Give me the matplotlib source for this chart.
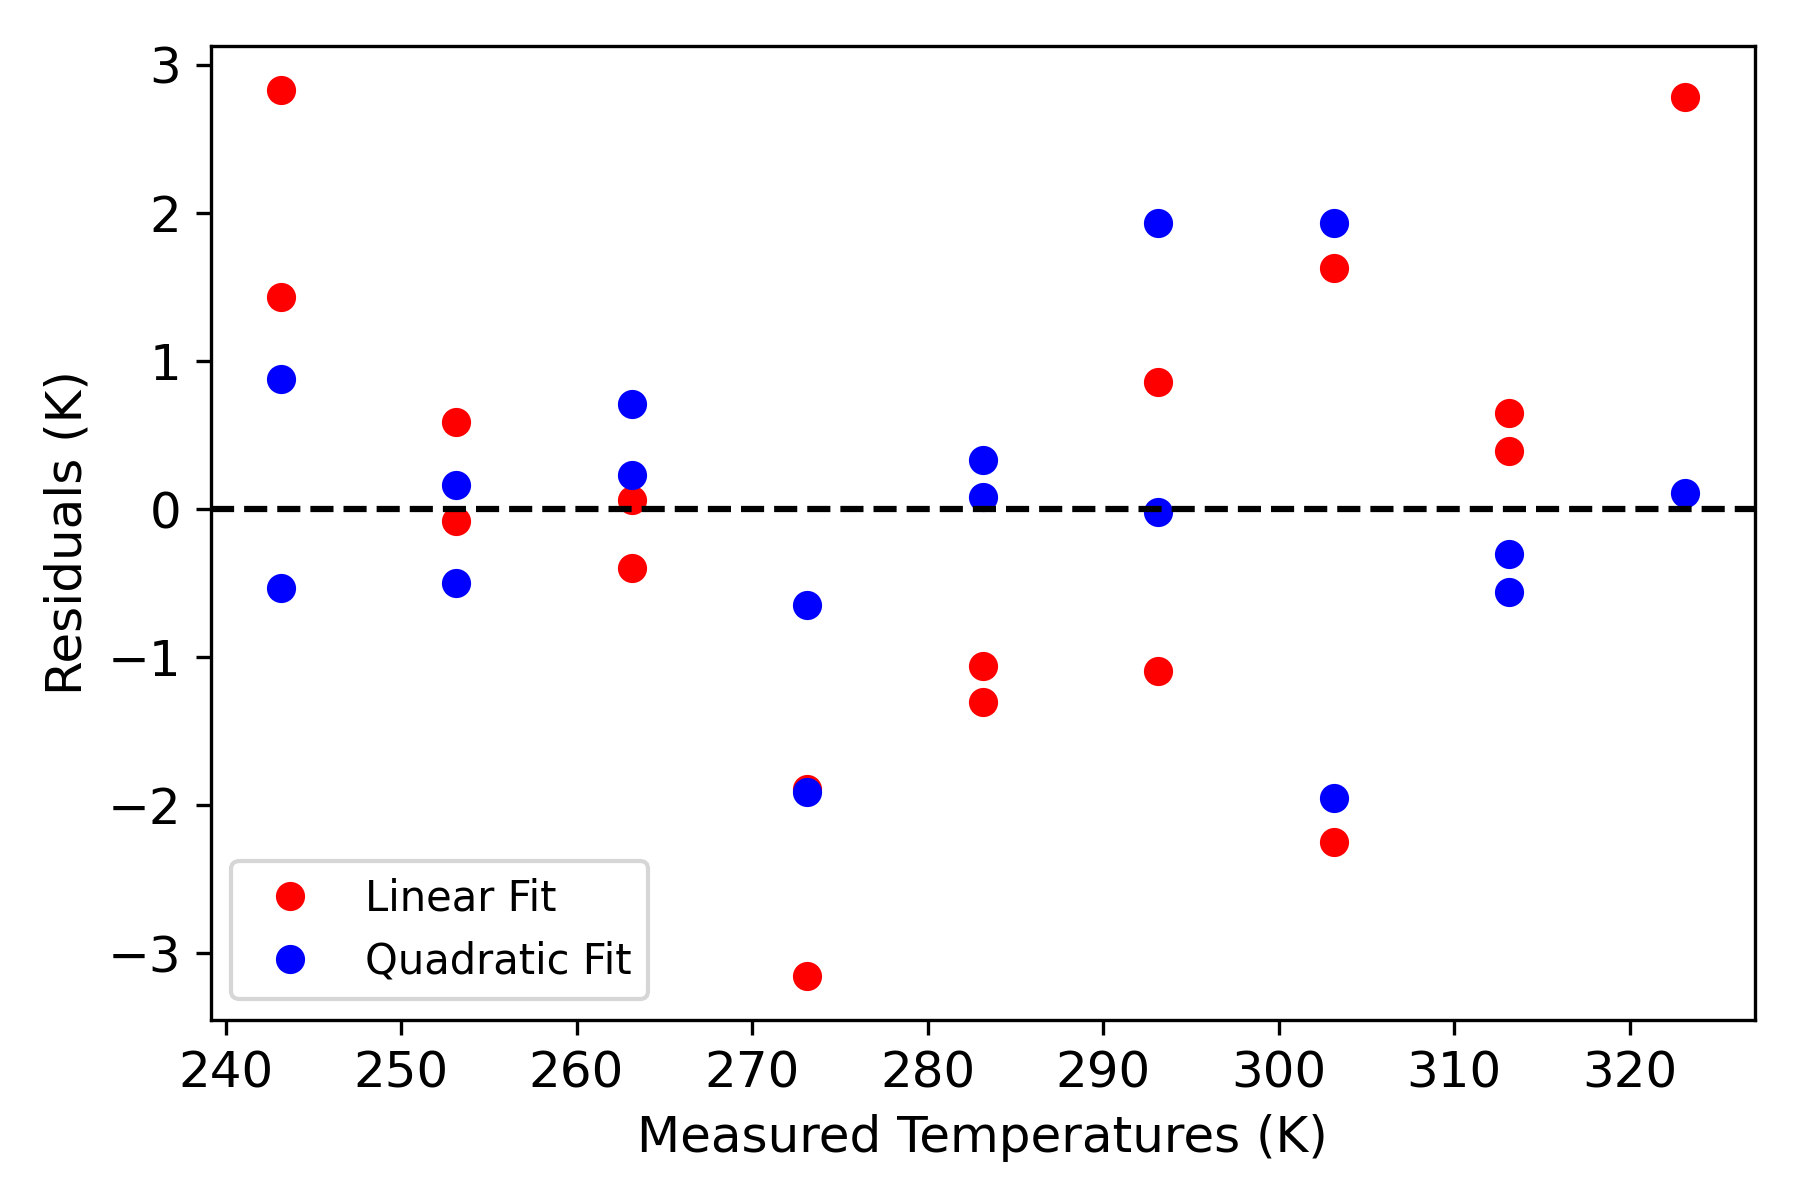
import numpy as np
import matplotlib
matplotlib.use('Agg')
import matplotlib.pyplot as plt

# measured temperatures (K), two readings per setpoint
temps = [243.15, 243.15, 253.15, 253.15, 263.15, 263.15, 273.15, 273.15,
         283.15, 283.15, 293.15, 293.15, 303.15, 303.15, 313.15, 313.15, 323.15]

res_linear = [2.83, 1.43, 0.59, -0.08, 0.06, -0.40, -1.89, -3.15,
              -1.06, -1.30, 0.86, -1.09, 1.63, -2.25, 0.65, 0.39, 2.78]

res_quad = [0.88, -0.53, 0.16, -0.50, 0.71, 0.23, -0.65, -1.91,
            0.33, 0.08, 1.93, -0.02, 1.93, -1.95, -0.30, -0.56, 0.11]

fig, ax = plt.subplots(figsize=(6, 4), dpi=300)
ax.plot(temps, res_linear, 'ro', label='Linear Fit')
ax.plot(temps, res_quad, 'bo', label='Quadratic Fit')
ax.axhline(0, color='k', linestyle='--')

ax.set_xlabel('Measured Temperatures (K)', fontsize=12)
ax.set_ylabel('Residuals (K)', fontsize=12)
ax.tick_params(labelsize=12)
ax.set_xticks(np.arange(240, 330, 10))
ax.legend(loc='lower left', fontsize=10)

plt.subplots_adjust(left=0.117, right=0.975, top=0.962, bottom=0.15)
plt.savefig('out.png')
